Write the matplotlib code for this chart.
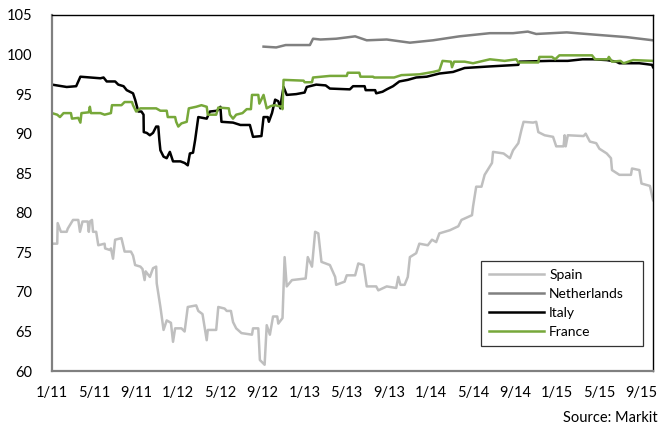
import matplotlib
matplotlib.use("Agg")
import matplotlib.pyplot as plt

# x values are months since Jan 2011
tick_pos = [0, 4, 8, 12, 16, 20, 24, 28, 32, 36, 40, 44, 48, 52, 56]
tick_labels = ["1/11", "5/11", "9/11", "1/12", "5/12", "9/12", "1/13", "5/13",
               "9/13", "1/14", "5/14", "9/14", "1/15", "5/15", "9/15"]

spain_x = [0, 0.5, 0.54, 0.85, 1.4, 1.5, 2.0, 2.5, 2.66, 2.9, 3.4, 3.5, 3.6, 3.8, 3.9, 4.2,
           4.4, 5.0, 5.05, 5.5, 5.6, 5.8, 6.0, 6.6, 6.9, 7.5, 7.7, 7.9, 8.4, 8.6, 8.8, 8.9,
           9.3, 9.6, 9.9, 9.95, 10.3, 10.6, 10.9, 11.3, 11.5, 11.7, 12.3, 12.6, 12.9, 13.7,
           13.9, 14.3, 14.7, 14.8, 15.6, 15.8, 16.4, 16.6, 17.0, 17.2, 17.5, 18.0, 19.0, 19.1,
           19.6, 19.75, 20.2, 20.4, 20.7, 21.0, 21.4, 21.5, 21.9, 22.1, 22.3, 22.8, 24.1, 24.3,
           24.7, 25.0, 25.3, 25.6, 26.4, 26.9, 27.0, 27.8, 28.0, 28.8, 29.1, 29.6, 29.9, 30.8,
           31.0, 31.8, 32.7, 32.9, 33.1, 33.5, 33.8, 34.0, 34.6, 34.9, 35.7, 36.1, 36.5, 36.8,
           37.8, 38.6, 38.9, 39.9, 40.0, 40.3, 40.8, 41.1, 41.8, 41.9, 42.9, 43.5, 43.8, 44.3,
           44.6, 44.8, 45.7, 46.0, 46.2, 46.8, 47.6, 47.9, 48.6, 48.7, 48.8, 49.0, 50.5, 50.7,
           51.1, 51.7, 52.0, 52.7, 53.1, 53.2, 53.9, 55.0, 55.1, 55.8, 56.0, 56.8, 57.1]
spain_y = [76.1, 76.1, 78.7, 77.6, 77.6, 78.0, 79.1, 79.1, 77.6, 78.9, 78.9, 77.6, 78.9, 79.1, 77.6, 77.6,
           75.9, 76.1, 75.5, 75.3, 75.5, 74.2, 76.6, 76.8, 75.1, 75.1, 74.6, 73.4, 73.2, 72.9, 71.5, 72.6,
           71.9, 73.0, 73.2, 71.1, 68.1, 65.2, 66.4, 66.1, 63.7, 65.4, 65.4, 65.0, 68.1, 68.3,
           67.6, 67.2, 63.9, 65.2, 65.2, 68.1, 67.9, 67.6, 67.6, 66.2, 65.4, 64.8, 64.6, 65.4,
           65.4, 61.4, 60.8, 65.8, 64.6, 66.9, 66.9, 66.0, 66.7, 74.4, 70.7, 71.5, 71.7, 74.4,
           73.2, 77.6, 77.4, 73.8, 73.4, 71.9, 70.9, 71.3, 72.1, 72.1, 73.6, 73.4, 70.7, 70.7,
           70.2, 70.7, 70.5, 71.9, 70.9, 70.9, 71.9, 74.4, 74.9, 76.1, 75.9, 76.6, 76.3, 77.4,
           77.8, 78.3, 79.1, 79.7, 80.8, 83.3, 83.3, 84.8, 86.3, 87.7, 87.5, 86.9, 87.9, 88.8,
           90.5, 91.5, 91.4, 91.5, 90.2, 89.8, 89.6, 88.4, 88.4, 89.8, 88.4, 89.8, 89.7, 90.0,
           89.0, 88.8, 88.1, 87.5, 86.9, 85.4, 84.8, 84.8, 85.6, 85.4, 83.7, 83.4, 81.6]

neth_x = [20.1, 21.3, 22.2, 24.5, 24.8, 25.5, 27.0, 28.8, 29.9, 31.8, 34.0, 36.2, 38.7,
          41.6, 43.8, 45.2, 46.0, 48.9, 51.7, 54.6, 57.1]
neth_y = [101.0, 100.9, 101.2, 101.2, 102.0, 101.9, 102.0, 102.3, 101.8, 101.9, 101.5, 101.8, 102.3,
          102.7, 102.7, 102.9, 102.6, 102.8, 102.5, 102.2, 101.8]

italy_x = [0, 1.4, 2.3, 2.7, 4.6, 4.9, 5.2, 6.0, 6.3, 6.8, 7.1, 7.7, 7.9, 8.2, 8.5, 8.7, 8.72,
           9.0, 9.3, 9.6, 9.9, 10.1, 10.2, 10.3, 10.6, 10.9, 11.2, 11.5, 12.2, 12.6, 12.9, 13.1,
           13.4, 13.6, 13.9, 14.7, 15.0, 15.7, 16.0, 16.1, 17.2, 17.9, 18.8, 19.1, 19.9, 20.1,
           20.5, 20.6, 20.9, 21.2, 21.5, 21.7, 21.8, 22.0, 22.3, 23.2, 24.0, 24.2, 25.1, 26.0,
           26.4, 28.3, 28.6, 29.7, 29.8, 30.7, 30.8, 31.4, 31.8, 32.4, 33.0, 33.8, 34.6, 35.6,
           36.8, 38.1, 39.2, 41.6, 44.3, 44.4, 47.3, 49.0, 50.4, 51.4, 52.7, 53.6, 53.9, 55.8,
           57.0, 57.1]
italy_y = [96.2, 95.9, 96.0, 97.2, 97.0, 97.1, 96.6, 96.6, 96.2, 96.0, 95.5, 95.1, 94.3, 92.8, 92.8, 92.4, 90.2,
           90.1, 89.8, 90.1, 90.9, 90.9, 89.2, 87.9, 87.1, 86.9, 87.7, 86.5, 86.5, 86.3, 86.0, 87.5,
           87.6, 89.2, 92.1, 91.9, 92.8, 92.9, 93.4, 91.5, 91.4, 91.1, 91.1, 89.6, 89.7, 92.1,
           92.1, 91.5, 92.6, 94.3, 94.1, 93.2, 94.3, 95.9, 94.9, 95.0, 95.2, 95.9, 96.2, 96.1,
           95.7, 95.6, 96.0, 96.0, 95.5, 95.5, 95.1, 95.3, 95.6, 96.0, 96.6, 96.8, 97.1, 97.2,
           97.6, 97.8, 98.3, 98.5, 98.7, 99.1, 99.2, 99.2, 99.4, 99.4, 99.3, 99.1, 98.9, 98.9,
           98.7, 98.4]

france_x = [0, 0.5, 0.76, 1.1, 1.8, 1.9, 2.5, 2.7, 2.8, 3.5, 3.6, 3.7, 4.6, 5.0, 5.6, 5.7,
            6.6, 6.9, 7.6, 7.7, 8.0, 8.4, 9.9, 10.3, 10.9, 11.0, 11.7, 11.8, 12.0, 12.3, 12.8,
            13.0, 13.7, 14.2, 14.7, 14.8, 15.6, 15.8, 16.8, 16.9, 17.2, 17.5, 18.1, 18.5, 18.9,
            19.0, 19.6, 19.7, 20.1, 20.4, 20.8, 21.2, 21.8, 21.9, 22.0, 23.9, 24.0, 24.7, 24.8,
            26.4, 28.0, 28.1, 29.2, 29.3, 30.5, 30.6, 32.5, 33.2, 34.9, 36.2, 36.8, 37.1, 37.9,
            38.0, 38.2, 39.2, 40.0, 41.6, 43.0, 44.1, 44.3, 46.2, 46.3, 47.5, 47.8, 48.2, 51.3,
            51.6, 52.8, 52.9, 53.2, 54.0, 54.3, 55.2, 57.1]
france_y = [92.6, 92.4, 92.1, 92.6, 92.6, 91.9, 92.0, 91.4, 92.6, 92.7, 93.4, 92.6, 92.6, 92.4, 92.6, 93.6,
            93.6, 94.0, 94.0, 93.6, 92.8, 93.2, 93.2, 92.9, 92.9, 92.1, 92.1, 91.5, 90.9, 91.3, 91.5,
            93.2, 93.4, 93.6, 93.4, 92.4, 92.4, 93.3, 93.2, 92.4, 91.9, 92.4, 92.6, 93.1, 93.1,
            94.9, 94.9, 93.8, 94.9, 93.2, 93.5, 93.6, 93.4, 93.1, 96.8, 96.7, 96.5, 96.5, 97.1,
            97.3, 97.3, 97.7, 97.7, 97.2, 97.2, 97.1, 97.1, 97.4, 97.5, 97.8, 98.0, 99.2, 99.1,
            98.4, 99.1, 99.1, 98.9, 99.4, 99.2, 99.4, 99.0, 99.0, 99.7, 99.7, 99.4, 99.9, 99.9,
            99.4, 99.4, 99.7, 99.1, 99.2, 98.9, 99.3, 99.2]

plt.rcParams["font.family"] = ["Lato", "DejaVu Sans"]

fig = plt.figure(figsize=(6.62, 4.28), dpi=100)
ax = fig.add_axes([0.0785, 0.133, 0.908, 0.832])

ax.plot(spain_x, spain_y, color="#bfbfbf", lw=1.8, label="Spain")
ax.plot(neth_x, neth_y, color="#808080", lw=1.8, label="Netherlands")
ax.plot(italy_x, italy_y, color="black", lw=1.8, label="Italy")
ax.plot(france_x, france_y, color="#77a83a", lw=1.8, label="France")

ax.set_xlim(0, 57.1)
ax.set_ylim(60, 105)
ax.set_yticks(range(60, 106, 5))
ax.set_xticks(tick_pos)
ax.set_xticklabels(tick_labels)
ax.tick_params(axis="both", length=0, labelsize=10.5, colors="black")
ax.tick_params(axis="y", pad=14)
ax.tick_params(axis="x", pad=11)

# plot area border: top/right black, axis lines gray
for side in ["top", "right"]:
    ax.spines[side].set_color("black")
    ax.spines[side].set_linewidth(1.0)
for side in ["left", "bottom"]:
    ax.spines[side].set_color("#808080")
    ax.spines[side].set_linewidth(1.6)

# legend box stretched to the reference width
leg = ax.legend(loc="lower left", bbox_to_anchor=(0.714, 0.070, 0.27, 0.24),
                mode="expand", fontsize=10, frameon=True, fancybox=False,
                handlelength=3.9, handletextpad=0.4, labelspacing=0.5,
                borderpad=0.6, borderaxespad=0)
leg.get_frame().set_edgecolor("black")
leg.get_frame().set_linewidth(0.9)

fig.text(0.994, 0.023, "Source: Markit", ha="right", va="center", fontsize=10.5)

fig.savefig("out.png", dpi=100)
